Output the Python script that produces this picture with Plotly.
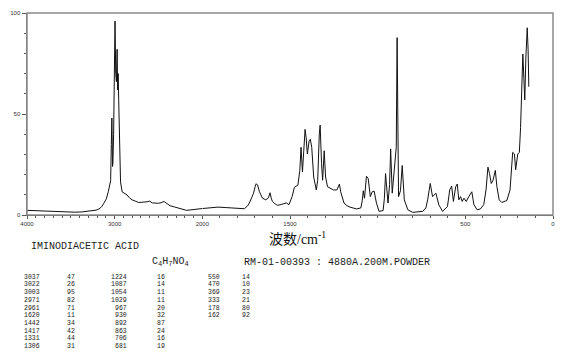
import plotly.graph_objects as go

# ---- spectrum trace (wavenumber / cm-1, relative intensity) ----
wavenumber = [
    4000, 3900, 3800, 3700, 3630, 3550, 3461, 3380, 3291, 3240, 3212, 3178, 3150, 3122, 3095,
    3073, 3055, 3046, 3038, 3032, 3024, 3020, 3012, 3006, 2996, 2988, 2980, 2972, 2966, 2960,
    2954, 2946, 2938, 2933, 2915, 2890, 2859, 2830, 2802, 2760, 2727, 2690, 2651, 2620, 2606,
    2590, 2570, 2538, 2500, 2470, 2436, 2415, 2395, 2368, 2320, 2274, 2230, 2180, 2140, 2100,
    2048, 2000,
    1955, 1911, 1870, 1836, 1800, 1760, 1742, 1732, 1719, 1708, 1699, 1693, 1685, 1674, 1657,
    1638, 1623, 1614, 1606, 1600, 1585, 1572, 1550, 1534, 1521, 1506, 1488, 1475, 1465, 1455,
    1444, 1437, 1429, 1421, 1414, 1408, 1401, 1391, 1384, 1376, 1365, 1350, 1342, 1333, 1328,
    1320, 1314, 1305, 1297, 1286, 1271, 1252, 1233, 1218, 1211, 1192, 1175, 1158, 1120, 1096,
    1088, 1082, 1075, 1064, 1054, 1042, 1031, 1020, 1007, 992, 969, 962, 955, 948, 941,
    932, 926, 917, 904, 894, 889, 884, 881, 870, 860, 848, 828, 800, 770, 743,
    725, 715, 700, 687, 668, 651, 630, 602, 589, 578, 568, 555, 546, 537, 527,
    518, 508, 495, 480, 463, 451, 433, 414, 395, 382, 371, 362, 352, 342, 329,
    320, 307, 292, 263, 245, 235, 230, 220, 213, 201, 192, 185, 179, 176, 172,
    166, 161, 155, 147, 142, 138,
]
intensity = [
    2.3, 2.1, 2.0, 1.8, 1.6, 1.5, 1.4, 1.5, 1.8, 2.1, 2.4, 3.0, 4.0, 5.9, 8.0,
    11.5, 14.5, 17.0, 35.0, 48.0, 24.0, 26.0, 40.0, 68.0, 96.0, 70.0, 66.0, 82.0, 62.0, 70.0,
    57.0, 32.0, 18.0, 16.4, 11.5, 10.8, 9.9, 8.5, 7.5, 6.8, 6.2, 6.3, 6.4, 6.6, 6.9,
    6.4, 6.0, 5.9, 5.8, 6.1, 6.7, 6.0, 5.3, 4.6, 4.0, 3.5, 2.8, 2.3, 2.5, 2.7,
    3.0, 3.2,
    3.6, 3.9, 3.7, 3.5, 3.3, 3.1, 4.5, 5.9, 8.5, 10.8, 14.0, 15.5, 14.8, 11.5, 8.3,
    7.5, 8.5, 11.0, 8.0, 6.7, 5.5, 4.8, 5.2, 5.5, 6.0, 5.1, 9.1, 13.7, 14.5, 14.8,
    22.1, 33.5, 21.3, 32.7, 42.4, 38.3, 30.2, 36.7, 37.5, 33.5, 18.8, 12.4, 17.2, 40.0, 44.5,
    25.4, 17.2, 31.8, 18.8, 14.0, 13.2, 12.4, 12.4, 15.3, 11.5, 5.9, 4.6, 3.9, 3.0, 3.5,
    7.0, 12.0, 8.3, 19.2, 18.0, 9.1, 11.5, 11.8, 5.9, 1.8, 2.2, 8.0, 20.5, 10.0, 5.9,
    15.0, 32.7, 10.8, 23.7, 33.5, 87.8, 40.0, 9.1, 12.0, 24.5, 7.5, 2.6, 1.3, 1.5, 1.8,
    3.5, 7.5, 15.6, 9.1, 10.8, 5.0, 1.8, 4.2, 12.4, 14.3, 6.7, 14.0, 15.3, 7.5, 9.1,
    6.7, 8.3, 6.7, 9.1, 11.5, 5.1, 2.6, 3.0, 5.1, 12.4, 23.7, 20.5, 15.6, 17.2, 22.1,
    14.0, 7.5, 6.2, 7.2, 12.4, 22.1, 31.0, 30.2, 22.4, 30.2, 31.0, 43.2, 62.7, 78.1, 79.7,
    67.5, 57.0, 77.3, 92.7, 82.0, 63.5,
]

# ---- peak table ----
peak_wn_col1 = ["3037", "3022", "3003", "2971", "2961", "1620", "1442", "1417", "1331", "1306"]
peak_int_col1 = ["47", "26", "95", "82", "71", "11", "34", "42", "44", "31"]
peak_wn_col2 = ["1224", "1087", "1054", "1029", "967", "930", "892", "863", "706", "681"]
peak_int_col2 = ["16", "14", "11", "11", "20", "32", "87", "24", "16", "19"]
peak_wn_col3 = ["550", "470", "369", "333", "178", "162"]
peak_int_col3 = ["14", "10", "23", "21", "80", "92"]

# ---- axis ticks / texts ----
x_ticks_left = [4000, 3000, 2000]
x_ticks_right = [1500, 500, 0]
y_ticks = [0, 50, 100]
compound_name = "IMINODIACETIC ACID"
formula = "C<sub>4</sub>H<sub>7</sub>NO<sub>4</sub>"
sample_info = "RM-01-00393 : 4880A.200M.POWDER"
axis_title = "波数/cm<sup>-1</sup>"

W, H = 570, 360
ML, MR, MT, MB = 27, 12, 10, 145
PW, PH = W - ML - MR, H - MT - MB


def px(xp, yp):
    return (xp - ML) / PW, (H - MB - yp) / PH


left_x = [w for w in wavenumber if w >= 2000]
left_y = [i for w, i in zip(wavenumber, intensity) if w >= 2000]
right_x = [w for w in wavenumber if w <= 2000]
right_y = [i for w, i in zip(wavenumber, intensity) if w <= 2000]

line_style = dict(color="#111111", width=1)
fig = go.Figure()
fig.add_trace(go.Scatter(x=left_x, y=left_y, mode="lines", line=line_style,
                         xaxis="x", yaxis="y", showlegend=False, hoverinfo="skip"))
fig.add_trace(go.Scatter(x=right_x, y=right_y, mode="lines", line=line_style,
                         xaxis="x2", yaxis="y", showlegend=False, hoverinfo="skip"))

tickfont = dict(family="Liberation Sans", size=6, color="#333333")
common_x = dict(ticks="outside", ticklen=3, tickcolor="#555555", tickwidth=1,
                showgrid=False, zeroline=False, showline=True, linecolor="#555555",
                linewidth=1, tickfont=tickfont, anchor="y",
                minor=dict(tickmode="linear", tick0=0, dtick=100, ticks="outside",
                           ticklen=2, tickcolor="#555555", showgrid=False))

fig.update_layout(
    width=W, height=H,
    margin=dict(l=ML, r=MR, t=MT, b=MB),
    paper_bgcolor="white", plot_bgcolor="white",
    showlegend=False,
    xaxis=dict(domain=[0, 1 / 3], range=[4000, 2000], tickmode="array",
               tickvals=x_ticks_left, ticktext=[str(v) for v in x_ticks_left], **common_x),
    xaxis2=dict(domain=[1 / 3, 1], range=[2000, 0], tickmode="array",
                tickvals=x_ticks_right, ticktext=[str(v) for v in x_ticks_right], **common_x),
    yaxis=dict(range=[0, 100], tickmode="array", tickvals=y_ticks,
               ticktext=[str(v) for v in y_ticks], ticks="outside", ticklen=4,
               tickcolor="#555555", showgrid=False, zeroline=False, showline=True,
               linecolor="#777777", linewidth=1.5, tickfont=tickfont, anchor="x",
               minor=dict(tickmode="linear", tick0=0, dtick=10, ticks="outside",
                          ticklen=2, tickcolor="#555555", showgrid=False)),
    shapes=[dict(type="rect", xref="paper", yref="paper", x0=0, x1=1, y0=0, y1=1,
                 line=dict(color="#8a8a8a", width=1.5), layer="above")],
)

annotations = []


def add_text(text, xp, yp, size, family, xanchor="left", color="#222222"):
    xx, yy = px(xp, yp)
    annotations.append(dict(text=text, x=xx, y=yy, xref="paper", yref="paper",
                            xanchor=xanchor, yanchor="middle", showarrow=False,
                            font=dict(size=size, family=family, color=color)))


add_text(axis_title, 300, 238, 14, "Liberation Serif, Noto Sans CJK SC", xanchor="center",
         color="#111111")
add_text(compound_name, 29, 247, 10, "Liberation Mono")
add_text(formula, 151, 263, 10, "Liberation Mono")
add_text(sample_info, 244, 263, 10, "Liberation Mono")

row0, dy = 278, 7.85
cols = [
    (peak_wn_col1, 42, "right"), (peak_int_col1, 65, "left"),
    (peak_wn_col2, 130, "right"), (peak_int_col2, 156.5, "left"),
    (peak_wn_col3, 223.5, "right"), (peak_int_col3, 242.5, "left"),
]
for vals, xp, anchor in cols:
    for k, v in enumerate(vals):
        add_text(v, xp, row0 + k * dy, 6.5, "Liberation Mono", xanchor=anchor)

fig.update_layout(annotations=annotations)
fig.write_html(
    "out.html",
    config={"displayModeBar": False, "staticPlot": True},
    post_script="document.body.style.margin='0';document.body.style.overflow='hidden';",
)
